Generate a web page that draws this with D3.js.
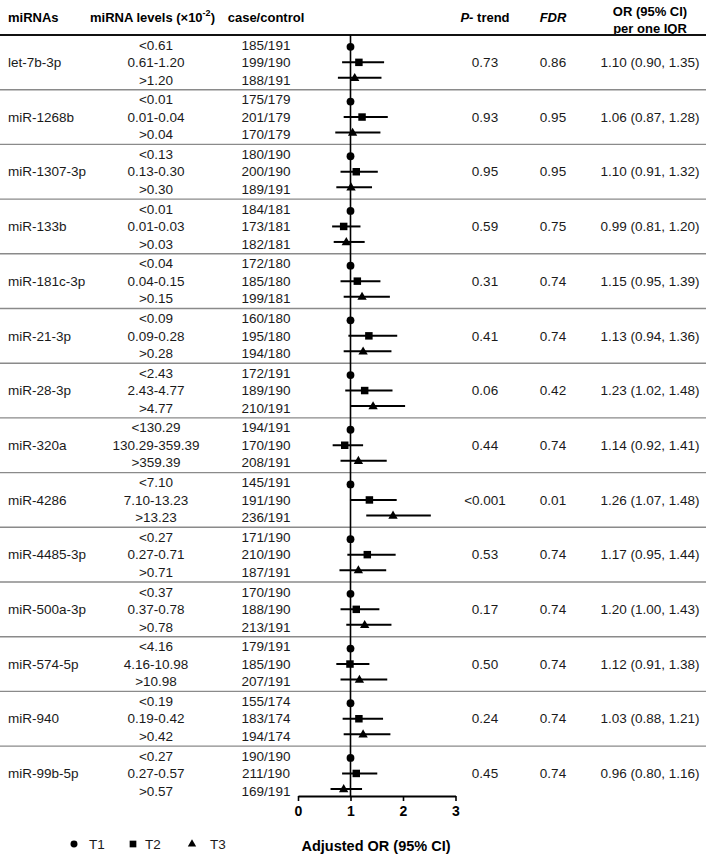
<!DOCTYPE html>
<html>
<head>
<meta charset="utf-8">
<script src="https://cdn.jsdelivr.net/npm/d3@7"></script>
<style>
  html, body { margin: 0; padding: 0; background: #fff; }
  svg { display: block; font-family: "Liberation Sans", Arial, sans-serif; }
</style>
</head>
<body>
<div id="chart"></div>
<script>
// Forest plot: miRNA tertiles vs adjusted OR

const mirnas = ['let-7b-3p', 'miR-1268b', 'miR-1307-3p', 'miR-133b', 'miR-181c-3p', 'miR-21-3p',
  'miR-28-3p', 'miR-320a', 'miR-4286', 'miR-4485-3p', 'miR-500a-3p', 'miR-574-5p', 'miR-940', 'miR-99b-5p'];

const levels = [
  ['<0.61', '0.61-1.20', '>1.20'],
  ['<0.01', '0.01-0.04', '>0.04'],
  ['<0.13', '0.13-0.30', '>0.30'],
  ['<0.01', '0.01-0.03', '>0.03'],
  ['<0.04', '0.04-0.15', '>0.15'],
  ['<0.09', '0.09-0.28', '>0.28'],
  ['<2.43', '2.43-4.77', '>4.77'],
  ['<130.29', '130.29-359.39', '>359.39'],
  ['<7.10', '7.10-13.23', '>13.23'],
  ['<0.27', '0.27-0.71', '>0.71'],
  ['<0.37', '0.37-0.78', '>0.78'],
  ['<4.16', '4.16-10.98', '>10.98'],
  ['<0.19', '0.19-0.42', '>0.42'],
  ['<0.27', '0.27-0.57', '>0.57']
];

const caseControl = [
  ['185/191', '199/190', '188/191'],
  ['175/179', '201/179', '170/179'],
  ['180/190', '200/190', '189/191'],
  ['184/181', '173/181', '182/181'],
  ['172/180', '185/180', '199/181'],
  ['160/180', '195/180', '194/180'],
  ['172/191', '189/190', '210/191'],
  ['194/191', '170/190', '208/191'],
  ['145/191', '191/190', '236/191'],
  ['171/190', '210/190', '187/191'],
  ['170/190', '188/190', '213/191'],
  ['179/191', '185/190', '207/191'],
  ['155/174', '183/174', '194/174'],
  ['190/190', '211/190', '169/191']
];

const pTrend = ['0.73', '0.93', '0.95', '0.59', '0.31', '0.41', '0.06', '0.44', '<0.001', '0.53', '0.17', '0.50', '0.24', '0.45'];
const fdr = ['0.86', '0.95', '0.95', '0.75', '0.74', '0.74', '0.42', '0.74', '0.01', '0.74', '0.74', '0.74', '0.74', '0.74'];
const orIqr = ['1.10 (0.90, 1.35)', '1.06 (0.87, 1.28)', '1.10 (0.91, 1.32)', '0.99 (0.81, 1.20)',
  '1.15 (0.95, 1.39)', '1.13 (0.94, 1.36)', '1.23 (1.02, 1.48)', '1.14 (0.92, 1.41)',
  '1.26 (1.07, 1.48)', '1.17 (0.95, 1.44)', '1.20 (1.00, 1.43)', '1.12 (0.91, 1.38)',
  '1.03 (0.88, 1.21)', '0.96 (0.80, 1.16)'];

// T1 is the reference (OR = 1); T2 and T3: [OR, lower, upper]
const t2 = [
  [1.16, 0.84, 1.64], [1.22, 0.87, 1.71], [1.11, 0.81, 1.52], [0.87, 0.65, 1.19],
  [1.13, 0.81, 1.57], [1.35, 0.96, 1.89], [1.27, 0.90, 1.80], [0.89, 0.66, 1.24],
  [1.36, 0.99, 1.88], [1.32, 0.94, 1.86], [1.11, 0.81, 1.55], [0.99, 0.73, 1.36],
  [1.16, 0.85, 1.62], [1.11, 0.84, 1.51]
];
const t3 = [
  [1.08, 0.76, 1.59], [1.04, 0.71, 1.57], [1.01, 0.73, 1.41], [0.92, 0.68, 1.27],
  [1.22, 0.87, 1.75], [1.24, 0.87, 1.78], [1.43, 1.01, 2.04], [1.15, 0.81, 1.69],
  [1.81, 1.30, 2.53], [1.15, 0.79, 1.68], [1.27, 0.92, 1.78], [1.17, 0.81, 1.70],
  [1.24, 0.87, 1.76], [0.87, 0.62, 1.22]
];

const xTicks = [0, 1, 2, 3];
const legendItems = ['T1', 'T2', 'T3'];

const W = 709, H = 854;
const headerY = 35;
const groupH = 54.7;
const rowStep = 17.5;
const markStep = 15.5;
const axisY = 796;

const svg = d3.select('#chart').append('svg').attr('width', W).attr('height', H);

const y = d3.scaleBand().domain(mirnas).range([headerY, headerY + groupH * mirnas.length]);
const x = d3.scaleLinear().domain([0, 3]).range([298, 455.5]);
const mid = (name) => y(name) + y.bandwidth() / 2;

const symbols = [d3.symbolCircle, d3.symbolSquare, d3.symbolTriangle];
const symSizes = [48, 56, 38];

// cabecera
const head = svg.append('g').attr('font-weight', 'bold').attr('font-size', 13).attr('fill', '#000');
head.append('text').attr('x', 8).attr('y', 22).text('miRNAs');
const lv = head.append('text').attr('x', 90).attr('y', 22);
lv.append('tspan').text('miRNA levels (×10');
lv.append('tspan').attr('font-size', 9).attr('dy', -6).text('-2');
lv.append('tspan').attr('dy', 6).text(')');
head.append('text').attr('x', 266).attr('y', 22).attr('text-anchor', 'middle').text('case/control');
const pt = head.append('text').attr('x', 485).attr('y', 22).attr('text-anchor', 'middle');
pt.append('tspan').attr('font-style', 'italic').text('P-');
pt.append('tspan').text(' trend');
head.append('text').attr('x', 553).attr('y', 22).attr('text-anchor', 'middle').attr('font-style', 'italic').text('FDR');
head.append('text').attr('x', 650).attr('y', 16).attr('text-anchor', 'middle').text('OR (95% CI)');
head.append('text').attr('x', 650).attr('y', 33).attr('text-anchor', 'middle').text('per one IQR');

// separadores
svg.append('line').attr('x1', 0).attr('x2', 706).attr('y1', headerY).attr('y2', headerY)
  .attr('stroke', '#111').attr('stroke-width', 2.2);
svg.append('g').selectAll('line').data(mirnas.slice(1)).join('line')
  .attr('x1', 0).attr('x2', 706)
  .attr('y1', (d) => y(d)).attr('y2', (d) => y(d))
  .attr('stroke', '#8a8a8a').attr('stroke-width', 1.4);

// columnas de texto
const body = svg.append('g').attr('font-size', 13.5).attr('fill', '#1a1a1a');
const groups = body.selectAll('g.grp').data(mirnas).join('g').attr('class', 'grp');
groups.append('text').attr('x', 8).attr('y', (d) => mid(d)).attr('dy', '0.35em').text((d) => d);
mirnas.forEach((name, i) => {
  [0, 1, 2].forEach((r) => {
    const ry = mid(name) + (r - 1) * rowStep;
    body.append('text').attr('x', 156).attr('y', ry).attr('dy', '0.35em')
      .attr('text-anchor', 'middle').text(levels[i][r]);
    body.append('text').attr('x', 266).attr('y', ry).attr('dy', '0.35em')
      .attr('text-anchor', 'middle').text(caseControl[i][r]);
  });
  body.append('text').attr('x', 485).attr('y', mid(name)).attr('dy', '0.35em')
    .attr('text-anchor', 'middle').text(pTrend[i]);
  body.append('text').attr('x', 553).attr('y', mid(name)).attr('dy', '0.35em')
    .attr('text-anchor', 'middle').text(fdr[i]);
  body.append('text').attr('x', 650).attr('y', mid(name)).attr('dy', '0.35em')
    .attr('text-anchor', 'middle').text(orIqr[i]);
});

// línea de referencia OR = 1
svg.append('line').attr('x1', x(1)).attr('x2', x(1)).attr('y1', headerY).attr('y2', axisY)
  .attr('stroke', '#000').attr('stroke-width', 1.6);

// estimaciones
const plot = svg.append('g');
mirnas.forEach((name, i) => {
  const rows = [[1, null, null], t2[i], t3[i]];
  rows.forEach((v, r) => {
    const ry = mid(name) + (r - 1) * markStep;
    if (v[1] != null) {
      plot.append('line').attr('x1', x(v[1])).attr('x2', x(v[2])).attr('y1', ry).attr('y2', ry)
        .attr('stroke', '#000').attr('stroke-width', 2);
    }
    plot.append('path').attr('d', d3.symbol(symbols[r], symSizes[r])())
      .attr('transform', `translate(${x(v[0])},${ry + (r === 2 ? 0.5 : 0)})`)
      .attr('fill', '#000');
  });
});

// eje
const axis = svg.append('g').attr('transform', `translate(0,${axisY})`)
  .call(d3.axisBottom(x).tickValues(xTicks).tickSize(5).tickSizeOuter(0).tickFormat(d3.format('d')));
axis.select('.domain').attr('stroke', '#000').attr('stroke-width', 1.8);
axis.selectAll('.tick line').attr('stroke', '#000').attr('stroke-width', 1.6);
axis.selectAll('.tick text').attr('font-size', 14).attr('font-weight', 'bold')
  .attr('font-family', '"Liberation Sans", Arial, sans-serif').attr('fill', '#000').attr('dy', '0.85em');

svg.append('text').attr('x', 376).attr('y', 851).attr('text-anchor', 'middle')
  .attr('font-size', 14.5).attr('font-weight', 'bold').attr('fill', '#000').text('Adjusted OR (95% CI)');

// leyenda
const legendX = [74, 133, 192];
const legendTextX = [89, 145, 210];
const leg = svg.append('g').selectAll('g').data(legendItems).join('g');
leg.append('path').attr('d', (d, i) => d3.symbol(symbols[i], symSizes[i] * 0.8)())
  .attr('transform', (d, i) => `translate(${legendX[i]},844)`).attr('fill', '#000');
leg.append('text').attr('x', (d, i) => legendTextX[i]).attr('y', 844).attr('dy', '0.35em')
  .attr('font-size', 13.5).attr('fill', '#1a1a1a').text((d) => d);
</script>
</body>
</html>
